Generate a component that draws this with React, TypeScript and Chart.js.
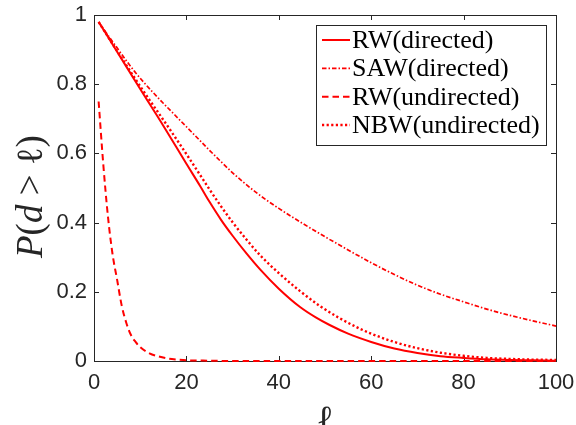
import React, { useEffect, useRef } from "react";
import { Chart, registerables } from "chart.js";

Chart.register(...registerables);

// ---- data ----
const ellRWdirected = [1, 5, 10, 15, 20, 23, 25, 27.5, 30, 33, 36, 40, 44.6, 48, 51, 55, 60, 65, 70, 75, 80, 85, 90, 95, 100];
const pRWdirected = [0.98, 0.894, 0.786, 0.68, 0.57, 0.505, 0.46, 0.408, 0.362, 0.311, 0.264, 0.209, 0.156, 0.126, 0.104, 0.079, 0.055, 0.036, 0.023, 0.014, 0.009, 0.005, 0.003, 0.002, 0.001];

const ellSAWdirected = [1, 3, 5, 7, 9, 11, 13, 15, 17.5, 20, 22.5, 25, 27.5, 30, 35, 40, 45, 50, 55, 60, 65, 70, 75, 80, 85, 90, 95, 100];
const pSAWdirected = [0.98, 0.942, 0.905, 0.868, 0.833, 0.802, 0.773, 0.745, 0.711, 0.677, 0.643, 0.609, 0.576, 0.544, 0.488, 0.441, 0.399, 0.359, 0.321, 0.284, 0.25, 0.219, 0.193, 0.171, 0.15, 0.132, 0.116, 0.101];

const ellRWundirected = [1, 2, 3, 4, 5, 6, 7, 8, 9, 10, 12, 14, 16, 18, 20, 25, 30, 40, 50, 60, 70, 80, 90, 100];
const pRWundirected = [0.75, 0.57, 0.42, 0.31, 0.235, 0.16, 0.11, 0.075, 0.055, 0.04, 0.022, 0.013, 0.007, 0.004, 0.002, 0.001, 0, 0, 0, 0, 0, 0, 0, 0];

const ellNBWundirected = [1, 5, 10, 12.5, 15, 17.5, 20, 23, 25, 27.5, 30, 33, 36, 40, 44.6, 49, 53, 57.6, 60, 65, 70, 75, 80, 85, 90, 95, 100];
const pNBWundirected = [0.98, 0.896, 0.794, 0.745, 0.697, 0.648, 0.598, 0.537, 0.496, 0.447, 0.401, 0.351, 0.305, 0.254, 0.202, 0.158, 0.125, 0.093, 0.079, 0.055, 0.037, 0.024, 0.015, 0.009, 0.006, 0.004, 0.003];

const seriesLabels = ["RW(directed)", "SAW(directed)", "RW(undirected)", "NBW(undirected)"];
const xTickValues = [0, 20, 40, 60, 80, 100];
const yTickValues = [0, 0.2, 0.4, 0.6, 0.8, 1];

const RED = "#ff0000";
const AXIS = "#262626";

const styles = [
  { dash: [] as number[], width: 2 },
  { dash: [4.5, 2, 1.5, 2], width: 1.7 },
  { dash: [6.5, 4], width: 2 },
  { dash: [2.2, 2.4], width: 2.4 },
];

function toPoints(xs: number[], ys: number[]) {
  return xs.map((x, i) => ({ x, y: ys[i] }));
}

const framePlugin = {
  id: "frame",
  beforeDatasetsDraw(chart: any) {
    const { ctx, chartArea } = chart;
    const { left, right, top, bottom } = chartArea;
    const xs = chart.scales.x;
    const ys = chart.scales.y;
    ctx.save();
    ctx.strokeStyle = AXIS;
    ctx.lineWidth = 1;
    ctx.strokeRect(left + 0.5, top + 0.5, right - left, bottom - top);
    const tl = 5;
    ctx.beginPath();
    xTickValues.forEach((v) => {
      const px = Math.round(xs.getPixelForValue(v)) + 0.5;
      ctx.moveTo(px, bottom);
      ctx.lineTo(px, bottom - tl);
      ctx.moveTo(px, top);
      ctx.lineTo(px, top + tl);
    });
    yTickValues.forEach((v) => {
      const py = Math.round(ys.getPixelForValue(v)) + 0.5;
      ctx.moveTo(left, py);
      ctx.lineTo(left + tl, py);
      ctx.moveTo(right, py);
      ctx.lineTo(right - tl, py);
    });
    ctx.stroke();
    ctx.restore();
  },
  afterDraw(chart: any) {
    const { ctx } = chart;
    ctx.save();
    // y-axis title  P(d > ℓ)
    const fs = 37;
    const pieces: [string, boolean][] = [
      ["P", true],
      ["(", false],
      ["d", true],
      [" > ", false],
      ["ℓ", false],
      [")", false],
    ];
    ctx.translate(42, 258);
    ctx.rotate(-Math.PI / 2);
    ctx.fillStyle = AXIS;
    ctx.textBaseline = "alphabetic";
    ctx.textAlign = "left";
    let cx = 0;
    pieces.forEach(([t, it]) => {
      ctx.font = `${it ? "italic " : ""}${fs}px "Liberation Serif", "DejaVu Serif", serif`;
      ctx.fillText(t, cx, 0);
      cx += ctx.measureText(t).width;
    });
    ctx.restore();

    // x-axis title ℓ
    ctx.save();
    ctx.fillStyle = AXIS;
    ctx.font = `37px "Liberation Serif", "DejaVu Serif", serif`;
    ctx.textAlign = "center";
    ctx.textBaseline = "alphabetic";
    ctx.fillText("ℓ", 325, 431);
    ctx.restore();

    // legend
    ctx.save();
    const bx = 316.5, by = 25.5, bw = 230, bh = 120;
    ctx.fillStyle = "#ffffff";
    ctx.fillRect(bx, by, bw, bh);
    ctx.strokeStyle = AXIS;
    ctx.lineWidth = 1;
    ctx.strokeRect(bx, by, bw, bh);
    const rowY = [40, 68.3, 96.7, 125];
    seriesLabels.forEach((lab, i) => {
      const y = rowY[i];
      ctx.strokeStyle = RED;
      ctx.lineWidth = styles[i].width;
      ctx.setLineDash(styles[i].dash);
      ctx.beginPath();
      ctx.moveTo(322, y);
      ctx.lineTo(350, y);
      ctx.stroke();
      ctx.setLineDash([]);
      ctx.fillStyle = "#000000";
      ctx.font = `26px "Liberation Serif", "DejaVu Serif", serif`;
      ctx.textAlign = "left";
      ctx.textBaseline = "middle";
      ctx.fillText(lab, 352, y + 1);
    });
    ctx.restore();
  },
};

function zeroPad(s: any) {
  s.paddingLeft = 0;
  s.paddingRight = 0;
  s.paddingTop = 0;
  s.paddingBottom = 0;
}

export default function App() {
  const ref = useRef<HTMLCanvasElement | null>(null);
  useEffect(() => {
    if (!ref.current) return;
    const seriesX = [ellRWdirected, ellSAWdirected, ellRWundirected, ellNBWundirected];
    const seriesY = [pRWdirected, pSAWdirected, pRWundirected, pNBWundirected];
    const chart = new Chart(ref.current, {
      type: "scatter",
      data: {
        datasets: seriesLabels.map((label, i) => ({
          label,
          data: toPoints(seriesX[i], seriesY[i]),
          showLine: true,
          borderColor: RED,
          backgroundColor: RED,
          borderWidth: styles[i].width,
          borderDash: styles[i].dash,
          borderCapStyle: "butt",
          pointRadius: 0,
          pointHoverRadius: 0,
          cubicInterpolationMode: "monotone",
          clip: false,
        })) as any,
      },
      options: {
        animation: false,
        responsive: false,
        devicePixelRatio: 1,
        layout: { padding: { left: 0, right: 20, top: 15, bottom: 0 } },
        plugins: {
          legend: { display: false },
          tooltip: { enabled: false },
        },
        scales: {
          x: {
            type: "linear",
            min: 0,
            max: 100,
            afterBuildTicks: (s: any) => {
              s.ticks = xTickValues.map((v) => ({ value: v }));
            },
            afterFit: (s: any) => {
              s.height = 64;
              zeroPad(s);
            },
            grid: { display: false, drawTicks: false },
            border: { display: false },
            ticks: {
              color: AXIS,
              padding: 9,
              maxRotation: 0,
              font: { family: '"Liberation Sans", Arial, sans-serif', size: 22 },
              callback: (v: any) => String(v),
            },
          },
          y: {
            type: "linear",
            min: 0,
            max: 1,
            afterBuildTicks: (s: any) => {
              s.ticks = yTickValues.map((v) => ({ value: v }));
            },
            afterFit: (s: any) => {
              s.width = 94;
              zeroPad(s);
            },
            grid: { display: false, drawTicks: false },
            border: { display: false },
            ticks: {
              color: AXIS,
              padding: 7,
              font: { family: '"Liberation Sans", Arial, sans-serif', size: 22 },
              callback: (v: any) => String(Math.round(Number(v) * 10) / 10),
            },
          },
        },
      },
      plugins: [framePlugin],
    });
    return () => chart.destroy();
  }, []);
  return (
    <div style={{ position: "absolute", left: 0, top: 0, width: 576, height: 425, background: "#fff" }}>
      <canvas ref={ref} width={576} height={425} style={{ display: "block" }} />
    </div>
  );
}
